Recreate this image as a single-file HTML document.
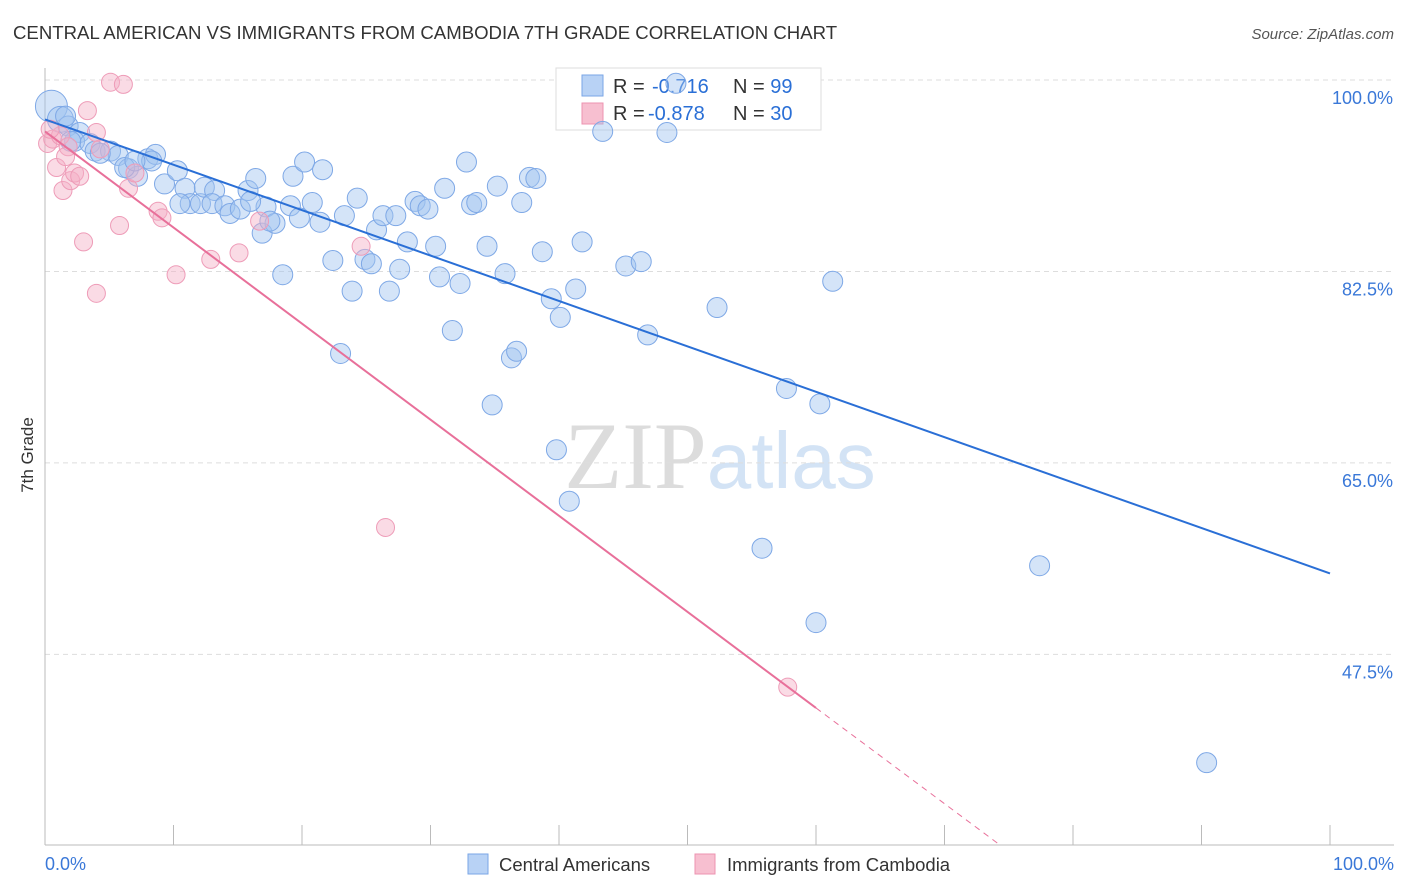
<!DOCTYPE html>
<html><head><meta charset="utf-8"><style>
body{margin:0;background:#fff;font-family:"Liberation Sans",sans-serif;}
</style></head><body>
<svg id="chart" width="1406" height="892" xmlns="http://www.w3.org/2000/svg" style="display:block">
<text x="13" y="39" font-size="18.6" fill="#333">CENTRAL AMERICAN VS IMMIGRANTS FROM CAMBODIA 7TH GRADE CORRELATION CHART</text>
<text x="1394" y="39" font-size="15" fill="#555" font-style="italic" text-anchor="end">Source: ZipAtlas.com</text>
<text x="720" y="488" font-size="95" text-anchor="middle"><tspan fill="#dcdcdc" font-family="Liberation Serif">ZIP</tspan><tspan fill="#d3e3f5" font-size="80">atlas</tspan></text>
<g id="grid"></g><g id="axes"></g>
<g>
<rect x="556" y="68" width="265" height="62" fill="#fff" stroke="#ddd"/>
<rect x="582" y="75" width="21" height="21" fill="#b8d2f5" stroke="#7aa6e6"/>
<rect x="582" y="103" width="21" height="21" fill="#f7bfd0" stroke="#ec93b0"/>
<text x="613" y="93" font-size="20" fill="#333">R = <tspan x="652" fill="#2a6fd6">-0.716</tspan><tspan x="733">N = </tspan><tspan fill="#2a6fd6">99</tspan></text>
<text x="613" y="120" font-size="20" fill="#333">R = <tspan x="648" fill="#2a6fd6">-0.878</tspan><tspan x="733">N = </tspan><tspan fill="#2a6fd6">30</tspan></text>
</g>
<g id="pts"></g><g id="lines"></g>
<text transform="translate(33,455) rotate(-90)" font-size="17" fill="#333" text-anchor="middle">7th Grade</text>
<g>
<rect x="468" y="854" width="20" height="20" fill="#b8d2f5" stroke="#7aa6e6"/>
<text x="499" y="871" font-size="18.5" fill="#333">Central Americans</text>
<rect x="695" y="854" width="20" height="20" fill="#f7bfd0" stroke="#ec93b0"/>
<text x="727" y="871" font-size="18.5" fill="#333">Immigrants from Cambodia</text>
</g>
</svg>
<script>
const yTicks=[100,82.5,65,47.5];
const yTickLabels=["100.0%","82.5%","65.0%","47.5%"];
const blueX=[0.5,1.2,1.8,1.6,2.7,2.3,3.5,3.9,5.1,5.7,6.5,7.2,8.0,8.6,8.3,9.3,10.3,10.9,11.3,12.1,12.4,13.2,13.0,14.0,14.4,15.2,15.8,16.4,16.9,17.2,17.9,18.5,19.1,19.3,19.8,20.2,20.8,21.4,21.6,22.4,23.0,23.3,23.9,24.3,24.9,25.4,25.8,26.3,26.8,27.3,27.6,28.2,28.8,29.2,29.8,30.4,30.7,31.1,31.7,32.3,32.8,33.2,33.6,34.4,34.8,35.2,35.8,36.3,36.7,37.1,37.7,38.2,38.7,39.4,39.8,40.1,40.8,41.3,41.8,43.4,45.2,46.4,46.9,48.4,49.1,52.3,55.8,57.7,60.0,60.3,61.3,77.4,90.4,2.0,4.3,6.2,7.0,10.5,16.0,17.5];
const blueY=[97.6,96.4,95.8,96.7,95.2,94.4,94.2,93.5,93.5,93.1,91.9,91.2,92.8,93.2,92.6,90.5,91.7,90.1,88.7,88.7,90.2,89.9,88.7,88.5,87.8,88.2,89.9,91.0,86.0,88.4,86.9,82.2,88.5,91.2,87.4,92.5,88.8,87.0,91.8,83.5,75.0,87.6,80.7,89.2,83.6,83.2,86.3,87.6,80.7,87.6,82.7,85.2,88.9,88.5,88.2,84.8,82.0,90.1,77.1,81.4,92.5,88.6,88.8,84.8,70.3,90.3,82.3,74.6,75.2,88.8,91.1,91.0,84.3,80.0,66.2,78.3,61.5,80.9,85.2,95.3,83.0,83.4,76.7,95.2,99.7,79.2,57.2,71.8,50.4,70.4,81.6,55.6,37.6,94.4,93.3,92.0,92.6,88.7,88.9,87.1];
const pinkX=[0.2,0.6,0.9,1.2,1.4,1.8,2.0,2.3,2.7,3.0,3.3,4.0,4.0,5.1,6.1,5.8,6.5,8.8,9.1,10.2,12.9,15.1,16.7,24.6,26.5,57.8,0.4,4.3,1.6,7.0];
const pinkY=[94.2,94.6,92.0,94.9,89.9,93.9,90.8,91.5,91.2,85.2,97.2,95.2,80.5,99.8,99.6,86.7,90.1,88.0,87.4,82.2,83.6,84.2,87.1,84.8,59.1,44.5,95.5,93.7,93.0,91.5];
const blueLine=[[0,96.4],[100,54.9]];
const pinkLine=[[0,95.3],[60,42.6]];
const pinkDash=[[60,42.6],[74.4,30.0]];
const NS="http://www.w3.org/2000/svg";
const xs=v=>45+v*12.85, ys=v=>80+(100-v)*10.94;
function mk(p,t,a){const e=document.createElementNS(NS,t);for(const k in a)e.setAttribute(k,a[k]);document.getElementById(p).appendChild(e);return e;}
yTicks.forEach((t,i)=>{
 const g=mk('grid','line',{x1:45,x2:1394,y1:ys(t),y2:ys(t),stroke:'#ddd','stroke-dasharray':'5,4'});
 
 
 const l=mk('grid','text',{x:1393,y:ys(t)+24,'font-size':18,fill:'#3a78d8','text-anchor':'end'});
 
 
 l.textContent=yTickLabels[i];
});
let a=mk('axes','line',{x1:45,x2:45,y1:68,y2:845,stroke:'#bbb'});


a=mk('axes','line',{x1:45,x2:1394,y1:845,y2:845,stroke:'#bbb'});


for(let i=0;i<=10;i++){const t=mk('axes','line',{x1:xs(i*10),x2:xs(i*10),y1:825,y2:845,stroke:'#bbb'});
 
 }
let xl=mk('axes','text',{x:45,y:870,'font-size':18,fill:'#3a78d8'});


xl.textContent='0.0%';
xl=mk('axes','text',{x:1394,y:870,'font-size':18,fill:'#3a78d8','text-anchor':'end'});


xl.textContent='100.0%';
blueX.forEach((x,i)=>{const r=i==0?16:(i==1?13:10);
 const c=mk('pts','circle',{cx:xs(x),cy:ys(blueY[i]),r:r,fill:'rgba(160,196,240,0.45)',stroke:'#7ea8e6','stroke-width':1});
 
 });
pinkX.forEach((x,i)=>{
 const c=mk('pts','circle',{cx:xs(x),cy:ys(pinkY[i]),r:9,fill:'rgba(245,175,198,0.45)',stroke:'#ee9cb8','stroke-width':1});
 
 });
let ln=mk('lines','line',{x1:xs(blueLine[0][0]),y1:ys(blueLine[0][1]),x2:xs(blueLine[1][0]),y2:ys(blueLine[1][1]),stroke:'#2a6fd6','stroke-width':2});


ln=mk('lines','line',{x1:xs(pinkLine[0][0]),y1:ys(pinkLine[0][1]),x2:xs(pinkLine[1][0]),y2:ys(pinkLine[1][1]),stroke:'#e8709a','stroke-width':2});


ln=mk('lines','line',{x1:xs(pinkDash[0][0]),y1:ys(pinkDash[0][1]),x2:xs(pinkDash[1][0]),y2:ys(pinkDash[1][1]),stroke:'#e8709a','stroke-width':1,'stroke-dasharray':'6,5'});


</script>
</body></html>
